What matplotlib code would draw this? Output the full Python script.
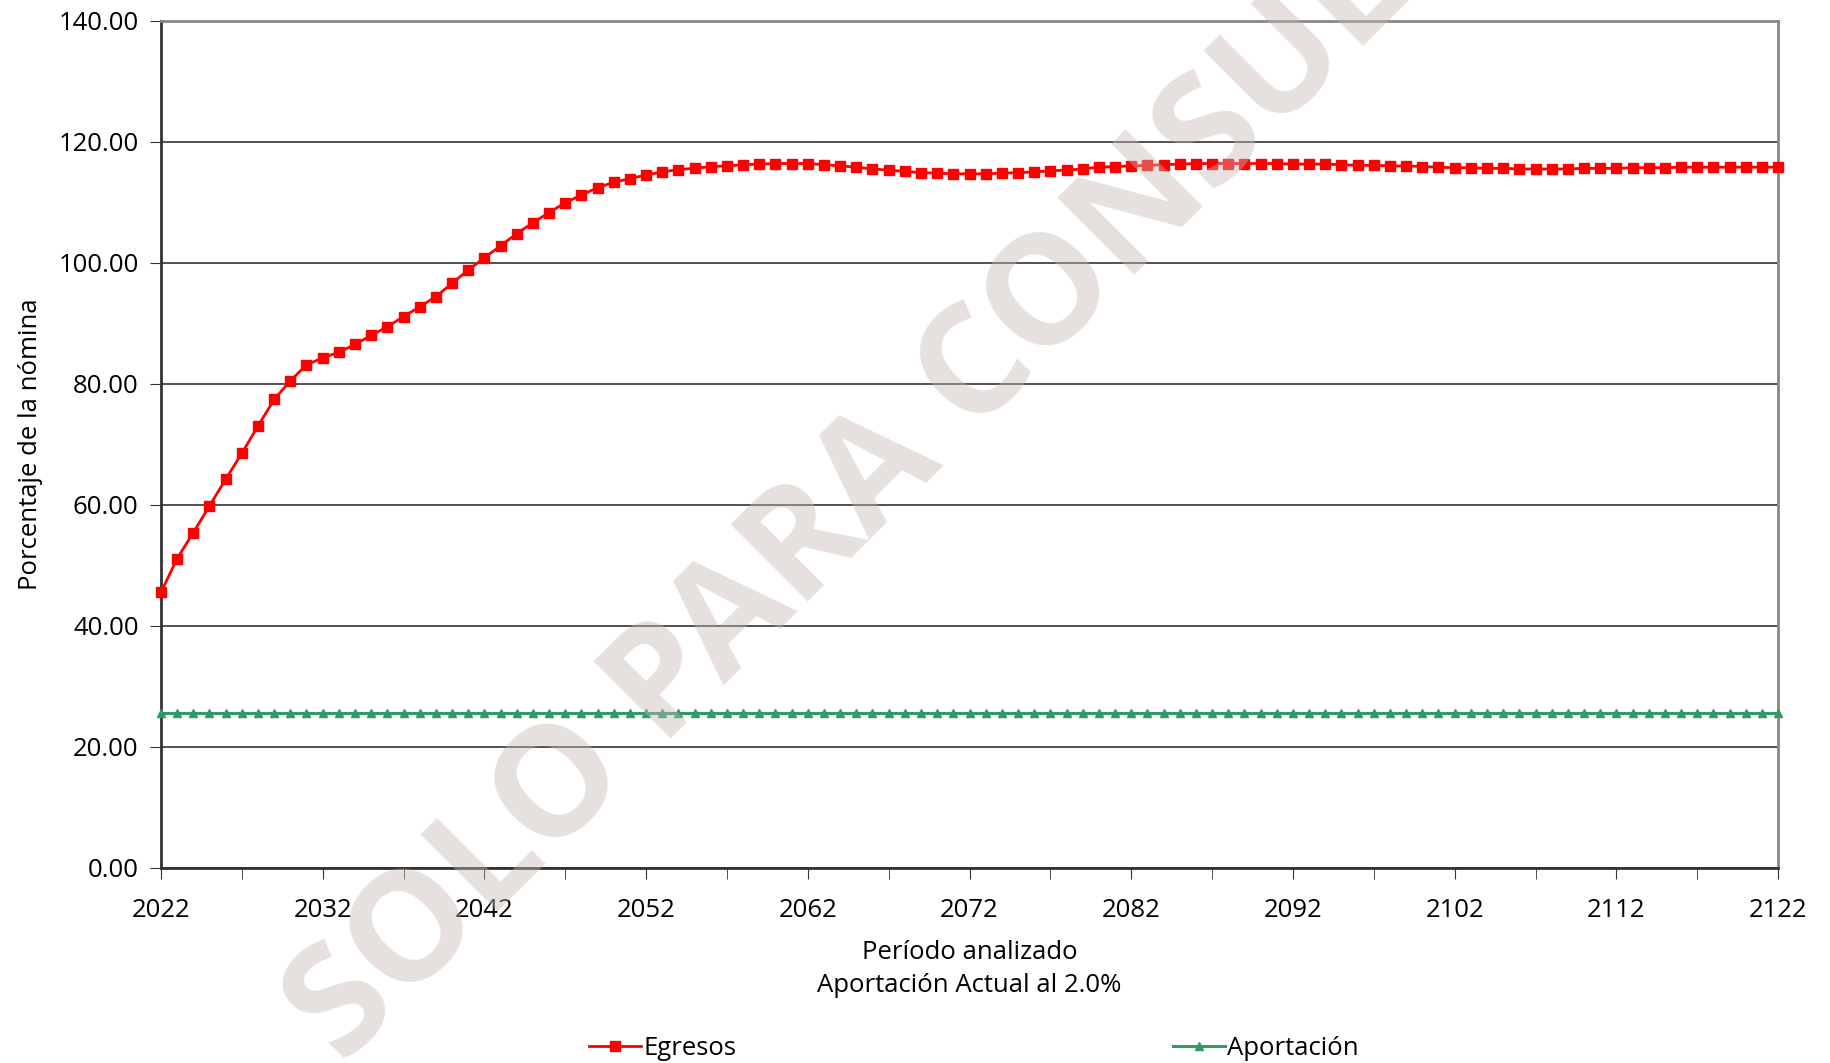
import numpy as np
import matplotlib
matplotlib.use('Agg')
import matplotlib.pyplot as plt
from matplotlib.ticker import MultipleLocator, FormatStrFormatter

plt.rcParams['font.family'] = ['Open Sans', 'DejaVu Sans']

# datos
anios = list(range(2022, 2123))
egresos = [45.5, 51.1, 55.4, 59.8, 64.2, 68.5, 73.0, 77.4, 80.5, 83.1,
           84.3, 85.2, 86.5, 88.0, 89.4, 91.1, 92.7, 94.4, 96.6, 98.8,
           100.8, 102.8, 104.8, 106.6, 108.3, 109.9, 111.2, 112.4, 113.3, 113.9,
           114.5, 115.0, 115.4, 115.6, 115.9, 116.0, 116.2, 116.3, 116.4, 116.4,
           116.4, 116.2, 116.0, 115.8, 115.5, 115.3, 115.1, 114.9, 114.8, 114.7,
           114.7, 114.7, 114.8, 114.9, 115.0, 115.2, 115.3, 115.5, 115.8, 115.9,
           116.0, 116.1, 116.2, 116.3, 116.4, 116.4, 116.4, 116.4, 116.4, 116.4,
           116.3, 116.3, 116.3, 116.2, 116.1, 116.1, 116.0, 116.0, 115.9, 115.8,
           115.7, 115.7, 115.6, 115.6, 115.5, 115.5, 115.5, 115.5, 115.6, 115.6,
           115.6, 115.7, 115.7, 115.7, 115.8, 115.8, 115.8, 115.8, 115.8, 115.8,
           115.8]
aportacion = [25.5] * len(anios)  # valor constante en todo el periodo

fig = plt.figure(figsize=(18.31, 10.63), dpi=100)
ax = fig.add_axes([0.0879, 0.1837, 0.8832, 0.7968])

ax.plot(anios, egresos, color='#FF0000', lw=2.0, marker='s', ms=7.5, label='Egresos',
        zorder=3, clip_on=False)
ax.plot(anios, aportacion, color='#339966', lw=2.2, marker='^', ms=5.5, label='Aportación',
        zorder=3, clip_on=False)

ax.set_xlim(2022, 2122)
ax.set_ylim(0, 140)
ax.set_xticks(range(2022, 2123, 10))
ax.set_xticks(range(2022, 2123, 5), minor=True)
ax.yaxis.set_major_locator(MultipleLocator(20))
ax.yaxis.set_major_formatter(FormatStrFormatter('%.2f'))
ax.grid(axis='y', color='#333333', lw=1.2)
ax.set_axisbelow(True)

ax.tick_params(axis='both', which='both', direction='out', color='#333333', labelsize=18.5)
ax.tick_params(axis='x', which='major', length=8, pad=14)
ax.tick_params(axis='x', which='minor', length=8)
ax.tick_params(axis='y', length=8, pad=8)

for s in ['left', 'bottom']:
    ax.spines[s].set_color('#333333')
    ax.spines[s].set_linewidth(2)
for s in ['top', 'right']:
    ax.spines[s].set_color('#888888')
    ax.spines[s].set_linewidth(2)

ax.set_ylabel('Porcentaje de la nómina', fontsize=18.5, labelpad=11)
ax.set_xlabel('Período analizado\nAportación Actual al 2.0%', fontsize=18.5, labelpad=12, linespacing=1.45)

fig.legend(loc='lower center', bbox_to_anchor=(0.532, -0.02), ncol=2, frameon=False,
           fontsize=18.5, columnspacing=17.0, handlelength=2.0, handletextpad=0.1)

# marca de agua
fig.text(0.50, 0.587, 'SOLO PARA CONSULTA', fontsize=110, fontweight='bold',
         color='#C6BAB4', alpha=0.43, rotation=45, ha='center', va='center',
         rotation_mode='anchor', zorder=10)

fig.savefig('out.png', dpi=100)
